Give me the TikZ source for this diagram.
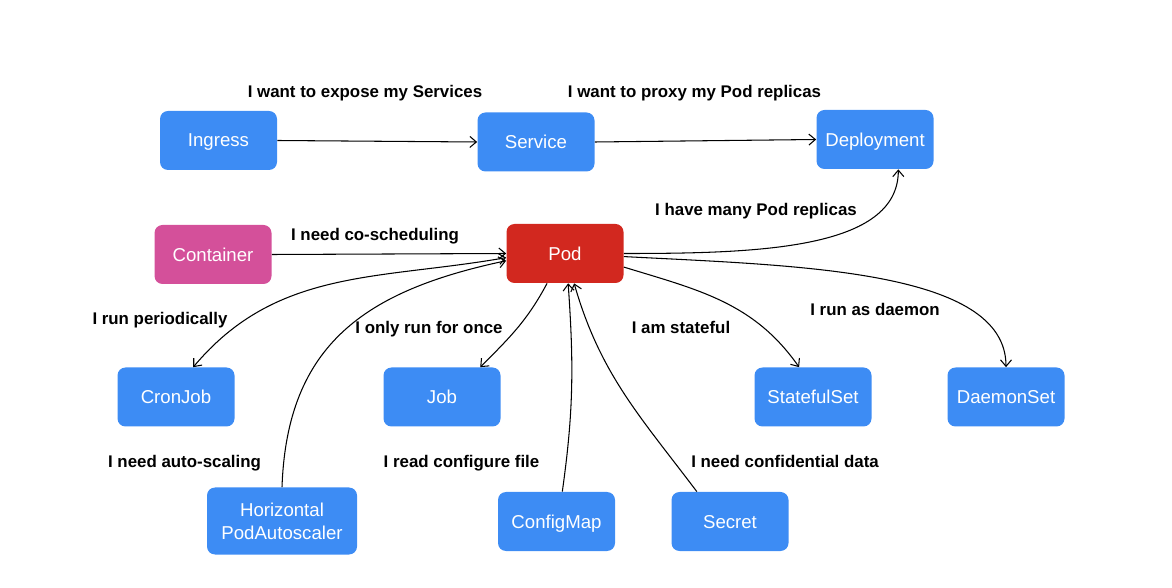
\documentclass[tikz,border=0pt]{standalone}
\usepackage{fontspec}
\setmainfont{Liberation Sans}
\usetikzlibrary{arrows.meta}
\definecolor{kubeblue}{HTML}{3D8CF4}
\definecolor{podred}{HTML}{D2281F}
\definecolor{ctrpink}{HTML}{D4509A}

\begin{document}
\begin{tikzpicture}[
    >={Straight Barb[length=1.3mm,width=2.2mm]},
    box/.style={fill=kubeblue, rounded corners=0.16cm, minimum width=2.34cm, minimum height=1.18cm,
      inner sep=0pt, align=center, text=white, text depth=0pt, font=\fontsize{10.6}{13}\selectfont},
    lbl/.style={text depth=0pt, font=\fontsize{9.6}{11.5}\selectfont\bfseries},
    link/.style={line width=0.6pt},
  ]
    \useasboundingbox (0,0) rectangle (23.44,-11.76);

    \node[box] (Ing) at (4.37,-2.81) {Ingress};
    \node[box] (Svc) at (10.72,-2.84) {Service};
    \node[box] (Dep) at (17.5,-2.79) {Deployment};
    \node[box, fill=ctrpink] (Ctr) at (4.26,-5.09) {Container};
    \node[box, fill=podred] (Pod) at (11.3,-5.07) {Pod};
    \node[box] (Cron) at (3.52,-7.94) {CronJob};
    \node[box] (Job) at (8.84,-7.94) {Job};
    \node[box] (Sts) at (16.26,-7.94) {StatefulSet};
    \node[box] (Dms) at (20.12,-7.94) {DaemonSet};
    \node[box, minimum width=3cm, minimum height=1.34cm] (Hpa) at (5.64,-10.42) {Horizontal\\PodAutoscaler};
    \node[box] (Cfg) at (11.13,-10.43) {ConfigMap};
    \node[box] (Sec) at (14.6,-10.43) {Secret};

    \node[lbl] (lExpose) at (7.3,-1.82) {I want to expose my Services};
    \node[lbl] (lProxy) at (13.89,-1.82) {I want to proxy my Pod replicas};
    \node[lbl] (lMany) at (15.12,-4.18) {I have many Pod replicas};
    \node[lbl] (lCosched) at (7.5,-4.68) {I need co-scheduling};
    \node[lbl] (lPeriod) at (3.2,-6.36) {I run periodically};
    \node[lbl] (lOnce) at (8.58,-6.54) {I only run for once};
    \node[lbl] (lState) at (13.62,-6.54) {I am stateful};
    \node[lbl] (lDaemon) at (17.5,-6.18) {I run as daemon};
    \node[lbl] (lScale) at (3.69,-9.22) {I need auto-scaling};
    \node[lbl] (lConf) at (9.23,-9.22) {I read configure file};
    \node[lbl] (lSecret) at (15.7,-9.22) {I need confidential data};

    \draw[->, link] (Ing.east) -- (Svc.west);
    \draw[->, link] (Svc.east) -- (Dep.west);
    \draw[->, link] (Ctr.east) -- (Pod.west);
    \draw[->, link] (Pod.east) to[out=0, in=-90, out distance=2.7cm, in distance=1.6cm] (Dep.-52);
    \draw[->, link] (Pod.-3) to[out=-3, in=90, out distance=3.5cm, in distance=1.95cm] (Dms.north);
    \draw[->, link] (Pod.-13) to[out=-17, in=125] (Sts.115);
    \draw[->, link] (Pod.-121) to[out=-118, in=45] (Job.38);
    \draw[<->, link] (Pod.184) to[out=190, in=50] (Cron.60);
    \draw[->, link] (Hpa.north) to[out=88, in=192, looseness=1.15] (Pod.187);
    \draw[->, link] (Cfg.79) to[out=82, in=-86] (Pod.-84);
    \draw[->, link] (Sec.138) to[out=127, in=-74] (Pod.-73);
\end{tikzpicture}
\end{document}
